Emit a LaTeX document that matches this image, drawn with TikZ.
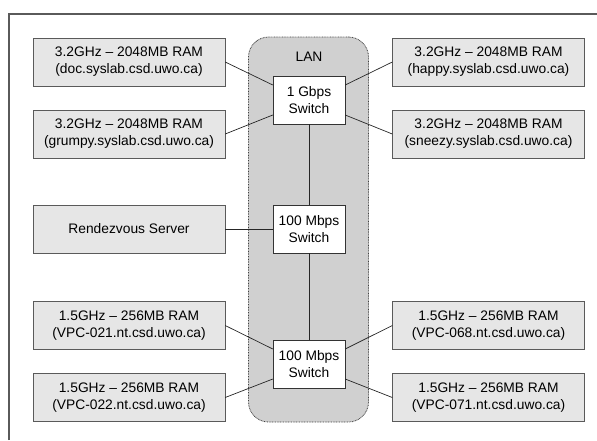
\documentclass[tikz,border=0pt]{standalone}
\usepackage{fontspec}
\setmainfont{Liberation Sans}
\usepackage{xcolor}
\usepackage{tikz}
\usetikzlibrary{arrows.meta,positioning,calc}

\definecolor{hostgray}{HTML}{E6E6E6}
\definecolor{langray}{HTML}{D0D0D0}
\definecolor{edgegray}{HTML}{5A5A5A}

\begin{document}
\begin{tikzpicture}[
  x=1pt,y=-1pt,
  font=\fontsize{13.8}{17}\selectfont,
  host/.style={draw=edgegray,fill=hostgray,align=center,minimum width=192pt,minimum height=48pt,inner sep=0pt},
  switch/.style={draw=black!80,fill=white,align=center,minimum width=72pt,minimum height=48pt,inner sep=0pt},
  lan/.style={draw=black!75,dash pattern=on 0.8pt off 0.8pt,line width=0.8pt,fill=langray,rounded corners=20pt,minimum width=120pt,minimum height=385pt},
  link/.style={draw=black!85,line width=0.7pt}
]
\useasboundingbox (0,0) rectangle (597,440);
\draw[edgegray,line width=1.4pt] (9,440) -- (9,14) -- (597,14);

\node[lan] (lan) at (308.5,229.5) {};
\node at (309,57) (lanlabel) {LAN};

\node[switch] (gbit) at (309,100) {1 Gbps\\Switch};
\node[switch] (mid) at (309,229) {100 Mbps\\Switch};
\node[switch] (low) at (309,364) {100 Mbps\\Switch};

\node[host] (doc) at (129,62) {3.2GHz -- 2048MB RAM\\(doc.syslab.csd.uwo.ca)};
\node[host] (grumpy) at (129,134) {3.2GHz -- 2048MB RAM\\(grumpy.syslab.csd.uwo.ca)};
\node[host] (happy) at (488.5,62) {3.2GHz -- 2048MB RAM\\(happy.syslab.csd.uwo.ca)};
\node[host] (sneezy) at (488.5,134) {3.2GHz -- 2048MB RAM\\(sneezy.syslab.csd.uwo.ca)};

\node[host] (rdv) at (129,229) {Rendezvous Server};

\node[host] (vpca) at (129,325.5) {1.5GHz -- 256MB RAM\\(VPC-021.nt.csd.uwo.ca)};
\node[host] (vpcb) at (129,397.5) {1.5GHz -- 256MB RAM\\(VPC-022.nt.csd.uwo.ca)};
\node[host] (vpcc) at (488.5,325.5) {1.5GHz -- 256MB RAM\\(VPC-068.nt.csd.uwo.ca)};
\node[host] (vpcd) at (488.5,397.5) {1.5GHz -- 256MB RAM\\(VPC-071.nt.csd.uwo.ca)};

\draw[link] (gbit) -- (mid);
\draw[link] (mid) -- (low);
\draw[link] (doc.east) -- ([yshift=15pt]gbit.west);
\draw[link] (grumpy.east) -- ([yshift=-15pt]gbit.west);
\draw[link] (happy.west) -- ([yshift=15pt]gbit.east);
\draw[link] (sneezy.west) -- ([yshift=-15pt]gbit.east);
\draw[link] (rdv) -- (mid);
\draw[link] (vpca.east) -- ([yshift=15pt]low.west);
\draw[link] (vpcb.east) -- ([yshift=-15pt]low.west);
\draw[link] (vpcc.west) -- ([yshift=15pt]low.east);
\draw[link] (vpcd.west) -- ([yshift=-15pt]low.east);
\end{tikzpicture}
\end{document}
